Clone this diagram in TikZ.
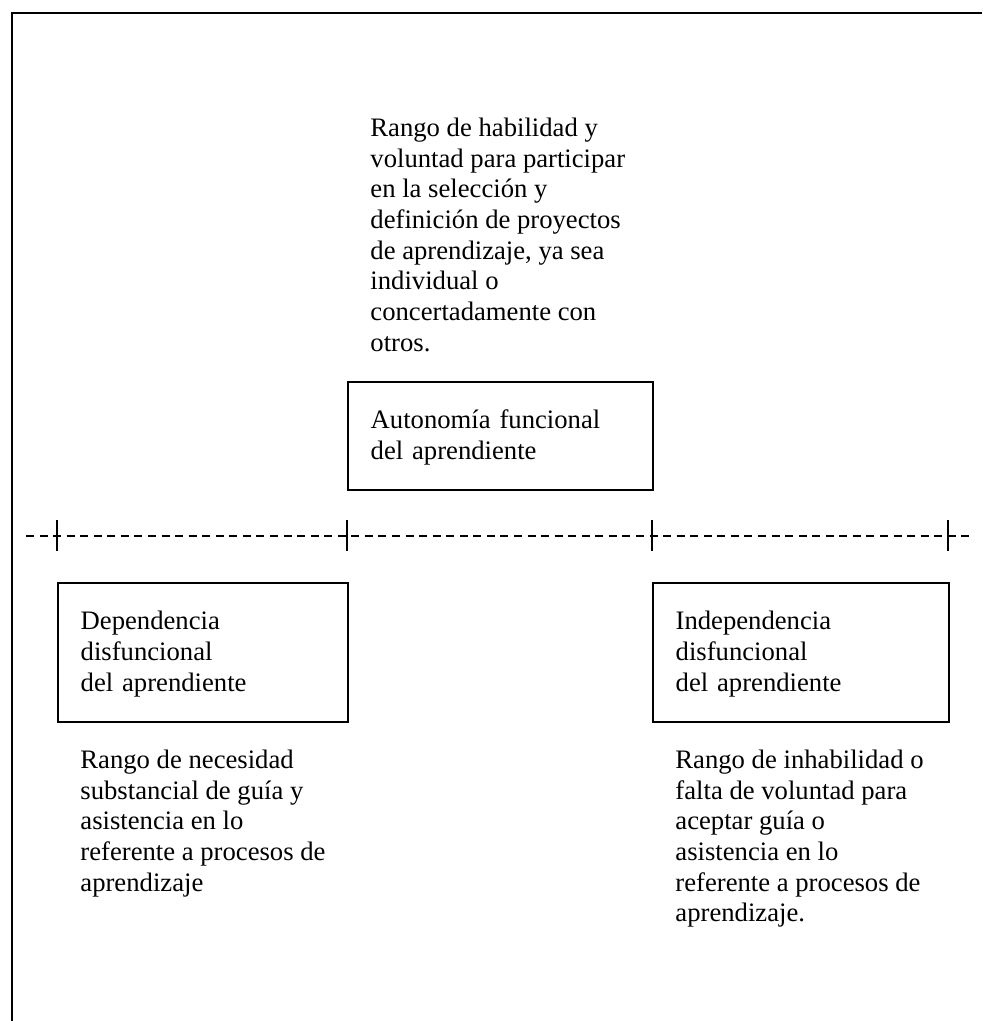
\documentclass[tikz,border=0pt]{standalone}
\usepackage{fontspec}
\setmainfont{Liberation Serif}

\begin{document}
\begin{tikzpicture}[x=0.45pt,y=-0.45pt,
    txt/.style={anchor=north west, inner sep=0pt, align=left, font=\fontsize{12}{13.8}\selectfont},
    box/.style={draw, line width=0.9pt, anchor=north west, align=left, inner xsep=10.2pt, inner ysep=0pt, font=\fontsize{12}{13.8}\selectfont}]
    \useasboundingbox (0,0) rectangle (982,1021);
    % frame
    \draw[line width=1.3pt] (12,1021) -- (12,13) -- (982,13);
    % axis with ticks
    \coordinate (axisL) at (26,536);
    \coordinate (axisR) at (972,536);
    \draw[line width=0.9pt, dash pattern=on 3.6pt off 2.5pt] (axisL) -- (axisR);
    \foreach \x in {57,347,652,948}
        \draw[line width=0.9pt] (\x,520) -- (\x,551);
    % boxes
    \node[box, text width=116.85pt, minimum height=48.6pt] (auto) at (347,381) {\strut Autonomía funcional\\del aprendiente};
    \node[box, text width=110.1pt, minimum height=62.55pt] (dep) at (57,582) {\strut Dependencia\\disfuncional\\del aprendiente};
    \node[box, text width=112.8pt, minimum height=62.55pt] (ind) at (652,582) {\strut Independencia\\disfuncional\\del aprendiente};
    % descriptions
    \node[txt] (hab) at (370,114.5) {\strut Rango de habilidad y\\voluntad para participar\\en la selección y\\definición de proyectos\\de aprendizaje, ya sea\\individual o\\concertadamente con\\otros.};
    \node[txt] (nec) at (80,746.5) {\strut Rango de necesidad\\substancial de guía y\\asistencia en lo\\referente a procesos de\\aprendizaje};
    \node[txt] (inh) at (675,746.5) {\strut Rango de inhabilidad o\\falta de voluntad para\\aceptar guía o\\asistencia en lo\\referente a procesos de\\aprendizaje.};
\end{tikzpicture}
\end{document}
